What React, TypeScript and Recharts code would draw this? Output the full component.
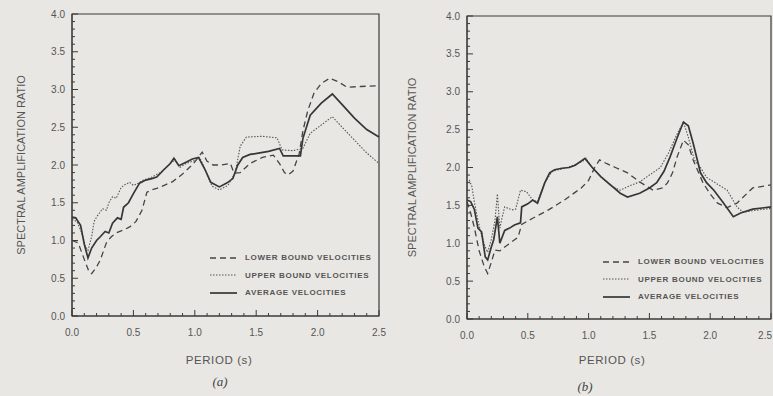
import { LineChart, Line, XAxis, YAxis, ReferenceArea, Legend } from "recharts";

type Pt = [number, number];

// period (s) / spectral amplification ratio pairs
const aLower: Pt[] = [
  [0, 1.0], [0.05, 0.97], [0.1, 0.75], [0.14, 0.58], [0.16, 0.56], [0.2, 0.65], [0.23, 0.74],
  [0.28, 0.97], [0.32, 1.05], [0.36, 1.1], [0.42, 1.14], [0.47, 1.18], [0.52, 1.25], [0.57, 1.4],
  [0.61, 1.64], [0.65, 1.67], [0.69, 1.69], [0.75, 1.73], [0.82, 1.78], [0.9, 1.88], [0.99, 2.02],
  [1.06, 2.17], [1.1, 2.05], [1.15, 2.0], [1.22, 2.0], [1.29, 2.02], [1.32, 1.89], [1.37, 1.9],
  [1.45, 2.02], [1.55, 2.1], [1.64, 2.13], [1.69, 2.02], [1.73, 1.9], [1.76, 1.87], [1.8, 1.92],
  [1.85, 2.15], [1.88, 2.45], [1.92, 2.72], [1.97, 2.95], [2.03, 3.08], [2.1, 3.15], [2.17, 3.1],
  [2.24, 3.03], [2.35, 3.04], [2.5, 3.05],
];
const aUpper: Pt[] = [
  [0, 1.28], [0.04, 1.25], [0.08, 1.1], [0.11, 0.92], [0.13, 0.87], [0.16, 1.05], [0.18, 1.25],
  [0.2, 1.31], [0.23, 1.38], [0.25, 1.42], [0.28, 1.4], [0.3, 1.5], [0.33, 1.58], [0.36, 1.56],
  [0.4, 1.7], [0.42, 1.73], [0.47, 1.77], [0.5, 1.73], [0.53, 1.75], [0.58, 1.8], [0.65, 1.84],
  [0.72, 1.9], [0.8, 2.02], [0.84, 2.07], [0.88, 1.97], [0.93, 2.02], [1.0, 2.06], [1.04, 2.1],
  [1.09, 1.92], [1.14, 1.72], [1.2, 1.67], [1.27, 1.73], [1.33, 1.9], [1.37, 2.25], [1.42, 2.37],
  [1.55, 2.38], [1.67, 2.36], [1.71, 2.2], [1.8, 2.19], [1.88, 2.22], [1.94, 2.42], [2.03, 2.53],
  [2.12, 2.64], [2.2, 2.5], [2.3, 2.33], [2.4, 2.16], [2.5, 2.02],
];
const aAverage: Pt[] = [
  [0, 1.31], [0.03, 1.3], [0.07, 1.2], [0.1, 0.95], [0.13, 0.77], [0.16, 0.9], [0.2, 1.0],
  [0.23, 1.05], [0.27, 1.12], [0.3, 1.1], [0.33, 1.23], [0.37, 1.3], [0.4, 1.28], [0.42, 1.44],
  [0.46, 1.5], [0.5, 1.62], [0.55, 1.76], [0.6, 1.8], [0.65, 1.82], [0.69, 1.84], [0.75, 1.94],
  [0.8, 2.02], [0.83, 2.09], [0.87, 1.99], [0.92, 2.03], [0.98, 2.08], [1.03, 2.1], [1.08, 1.95],
  [1.13, 1.77], [1.2, 1.71], [1.26, 1.76], [1.31, 1.82], [1.35, 2.0], [1.39, 2.1], [1.45, 2.14],
  [1.53, 2.16], [1.6, 2.18], [1.69, 2.22], [1.72, 2.12], [1.86, 2.12], [1.88, 2.35], [1.94, 2.66],
  [2.03, 2.82], [2.12, 2.94], [2.2, 2.8], [2.3, 2.62], [2.4, 2.47], [2.5, 2.37],
];

const bLower: Pt[] = [
  [0, 1.55], [0.03, 1.4], [0.06, 1.21], [0.1, 0.9], [0.14, 0.7], [0.17, 0.6], [0.2, 0.75],
  [0.23, 0.91], [0.27, 0.9], [0.31, 0.95], [0.37, 1.02], [0.42, 1.08], [0.45, 1.25], [0.54, 1.33],
  [0.67, 1.44], [0.8, 1.57], [0.94, 1.73], [1.0, 1.83], [1.05, 2.0], [1.09, 2.1], [1.15, 2.05],
  [1.22, 2.0], [1.32, 1.93], [1.42, 1.81], [1.53, 1.7], [1.61, 1.73], [1.65, 1.8], [1.69, 1.93],
  [1.73, 2.15], [1.78, 2.36], [1.82, 2.3], [1.86, 2.1], [1.94, 1.8], [2.0, 1.65], [2.06, 1.53],
  [2.14, 1.47], [2.22, 1.53], [2.35, 1.73], [2.5, 1.77],
];
const bUpper: Pt[] = [
  [0, 1.8], [0.02, 1.83], [0.04, 1.75], [0.06, 1.55], [0.09, 1.3], [0.12, 1.1], [0.15, 0.95],
  [0.17, 0.88], [0.2, 1.05], [0.23, 1.3], [0.25, 1.65], [0.27, 1.2], [0.29, 1.35], [0.31, 1.48],
  [0.37, 1.44], [0.4, 1.45], [0.44, 1.7], [0.49, 1.68], [0.54, 1.57], [0.58, 1.55], [0.64, 1.8],
  [0.7, 1.95], [0.78, 1.98], [0.86, 2.02], [0.95, 2.08], [0.98, 2.12], [1.02, 2.02], [1.1, 1.88],
  [1.18, 1.76], [1.26, 1.7], [1.34, 1.76], [1.42, 1.81], [1.5, 1.9], [1.59, 2.0], [1.66, 2.2],
  [1.73, 2.45], [1.78, 2.6], [1.82, 2.4], [1.87, 2.1], [1.92, 2.0], [1.97, 1.87], [2.06, 1.78],
  [2.14, 1.7], [2.22, 1.48], [2.27, 1.41], [2.35, 1.43], [2.5, 1.46],
];
const bAverage: Pt[] = [
  [0, 1.57], [0.03, 1.55], [0.06, 1.45], [0.09, 1.2], [0.12, 1.15], [0.15, 0.82], [0.17, 0.78],
  [0.2, 0.95], [0.22, 1.05], [0.25, 1.35], [0.27, 1.0], [0.31, 1.17], [0.35, 1.2], [0.39, 1.24],
  [0.44, 1.27], [0.45, 1.48], [0.5, 1.52], [0.54, 1.57], [0.58, 1.53], [0.64, 1.8], [0.68, 1.93],
  [0.72, 1.97], [0.78, 1.99], [0.84, 2.0], [0.89, 2.03], [0.97, 2.12], [1.03, 2.0], [1.1, 1.88],
  [1.18, 1.77], [1.26, 1.66], [1.32, 1.61], [1.42, 1.66], [1.5, 1.73], [1.56, 1.8], [1.62, 1.95],
  [1.67, 2.14], [1.73, 2.4], [1.78, 2.6], [1.82, 2.55], [1.86, 2.32], [1.92, 1.93], [1.97, 1.8],
  [2.03, 1.7], [2.1, 1.55], [2.19, 1.35], [2.25, 1.4], [2.35, 1.45], [2.5, 1.48],
];

const periodMajor = [0, 0.5, 1.0, 1.5, 2.0, 2.5];
const ratioMajor = [0, 0.5, 1.0, 1.5, 2.0, 2.5, 3.0, 3.5, 4.0];
const seriesNames = ["LOWER BOUND VELOCITIES", "UPPER BOUND VELOCITIES", "AVERAGE VELOCITIES"];

const INK = "#3a3a3a";
const TEXT = "#555";
const PAPER = "#e9e7e3";
const FONT = "'Liberation Sans', Arial, sans-serif";

const seriesStyle = [
  { dash: "6 4", width: 1.3, color: "#444" },
  { dash: "1.5 1.5", width: 1.1, color: "#555" },
  { dash: undefined, width: 1.7, color: "#363636" },
];

// add 4 minor ticks between every pair of major ticks
function withMinor(major: number[]) {
  const out: number[] = [];
  major.forEach((m, i) => {
    out.push(m);
    if (i < major.length - 1) {
      const step = (major[i + 1] - m) / 5;
      for (let k = 1; k < 5; k++) out.push(+(m + k * step).toFixed(2));
    }
  });
  return out;
}
const isMajor = (v: number) => Math.abs(v * 2 - Math.round(v * 2)) < 1e-6;
const toRows = (pts: Pt[]) => pts.map(([period, ratio]) => ({ period, ratio }));

function XTick(props: any) {
  const { x, y, payload, clipRight } = props;
  const major = isMajor(payload.value);
  // the right-hand panel runs off the page edge, keep its last label inside
  const pinned = clipRight && payload.value === 2.5;
  return (
    <g>
      <line x1={x} x2={x} y1={y} y2={y - (major ? 6 : 3)} stroke={INK} strokeWidth={1} />
      {major && (
        <text
          x={pinned ? x + 1 : x}
          y={y + 20}
          textAnchor={pinned ? "end" : "middle"}
          fontSize={10}
          fill={TEXT}
          fontFamily={FONT}
        >
          {payload.value.toFixed(1)}
        </text>
      )}
    </g>
  );
}

function YTick(props: any) {
  const { x, y, payload } = props;
  const major = isMajor(payload.value);
  return (
    <g>
      <line x1={x} x2={x + (major ? 6 : 3)} y1={y} y2={y} stroke={INK} strokeWidth={1} />
      {major && (
        <text x={x - 7} y={y + 3.5} textAnchor="end" fontSize={10} fill={TEXT} fontFamily={FONT}>
          {payload.value.toFixed(1)}
        </text>
      )}
    </g>
  );
}

function Key() {
  return (
    <div style={{ fontFamily: FONT, fontSize: 8, fontWeight: 700, color: TEXT, letterSpacing: 0.7 }}>
      {seriesNames.map((name, i) => (
        <div key={name} style={{ display: "flex", alignItems: "center", height: 17.5, whiteSpace: "nowrap" }}>
          <svg width={27} height={6} style={{ marginRight: 8 }}>
            <line
              x1={0}
              x2={27}
              y1={3}
              y2={3}
              stroke={seriesStyle[i].color}
              strokeWidth={seriesStyle[i].width}
              strokeDasharray={seriesStyle[i].dash}
            />
          </svg>
          <span>{name}</span>
        </div>
      ))}
    </div>
  );
}

interface PanelProps {
  left: number;
  width: number;
  axisW: number;
  top: number;
  plotBottom: number;
  right: number;
  series: Pt[][];
  keyLeft: number;
  keyTop: number;
  xLabelX: number;
  yLabelX: number;
  caption: string;
  captionX: number;
  captionY: number;
  clipRight?: boolean;
}

function Panel(p: PanelProps) {
  const height = 396;
  const xAxisH = 30;
  const bottom = height - p.plotBottom - xAxisH;
  const midY = (p.top + p.plotBottom) / 2;
  return (
    <div style={{ position: "absolute", left: p.left, top: 0 }}>
      <LineChart
        width={p.width}
        height={height}
        margin={{ top: p.top, right: p.right, bottom, left: 0 }}
      >
        <XAxis
          type="number"
          dataKey="period"
          domain={[0, 2.5]}
          ticks={withMinor(periodMajor)}
          interval={0}
          tickSize={0}
          tickMargin={0}
          tick={<XTick clipRight={p.clipRight} />}
          axisLine={{ stroke: INK }}
          height={xAxisH}
          allowDuplicatedCategory={false}
          label={{
            content: () => (
              <text
                x={p.xLabelX}
                y={364}
                textAnchor="middle"
                fontSize={11.5}
                letterSpacing={0.6}
                fill={TEXT}
                fontFamily={FONT}
              >
                PERIOD (s)
              </text>
            ),
          }}
        />
        <YAxis
          type="number"
          domain={[0, 4]}
          ticks={withMinor(ratioMajor)}
          interval={0}
          tickSize={0}
          tickMargin={0}
          tick={<YTick />}
          axisLine={{ stroke: INK }}
          width={p.axisW}
          label={{
            content: () => (
              <text
                x={p.yLabelX}
                y={midY}
                transform={`rotate(-90, ${p.yLabelX}, ${midY})`}
                textAnchor="middle"
                dominantBaseline="middle"
                fontSize={11}
                fill={TEXT}
                fontFamily={FONT}
              >
                SPECTRAL AMPLIFICATION RATIO
              </text>
            ),
          }}
        />
        <ReferenceArea x1={0} x2={2.5} y1={0} y2={4} fill="none" stroke={INK} strokeWidth={1.2} />
        {p.series.map((pts, i) => (
          <Line
            key={seriesNames[i]}
            data={toRows(pts)}
            dataKey="ratio"
            name={seriesNames[i]}
            type="linear"
            stroke={seriesStyle[i].color}
            strokeWidth={seriesStyle[i].width}
            strokeDasharray={seriesStyle[i].dash}
            dot={false}
            isAnimationActive={false}
          />
        ))}
        <Legend
          layout="horizontal"
          verticalAlign="middle"
          align="center"
          content={<Key />}
          wrapperStyle={{ position: "absolute", left: p.keyLeft, top: p.keyTop, width: 170 }}
        />
      </LineChart>
      <div
        style={{
          position: "absolute",
          left: p.captionX - 20,
          top: p.captionY - 9,
          width: 40,
          textAlign: "center",
          fontFamily: "'Liberation Serif', serif",
          fontStyle: "italic",
          fontSize: 13,
          color: "#444",
        }}
      >
        {p.caption}
      </div>
    </div>
  );
}

export default function App() {
  return (
    <div style={{ position: "absolute", left: 0, top: 0, width: 773, height: 396, background: PAPER, overflow: "hidden" }}>
      <Panel
        left={0}
        width={390}
        axisW={72}
        top={14}
        plotBottom={316}
        right={11}
        series={[aLower, aUpper, aAverage]}
        keyLeft={210}
        keyTop={249}
        xLabelX={219}
        yLabelX={22}
        caption="(a)"
        captionX={220}
        captionY={383}
      />
      <Panel
        left={390}
        width={383}
        axisW={77}
        top={16}
        plotBottom={319}
        right={2}
        series={[bLower, bUpper, bAverage]}
        keyLeft={213}
        keyTop={253}
        xLabelX={222}
        yLabelX={23}
        caption="(b)"
        captionX={195}
        captionY={388}
        clipRight
      />
    </div>
  );
}
